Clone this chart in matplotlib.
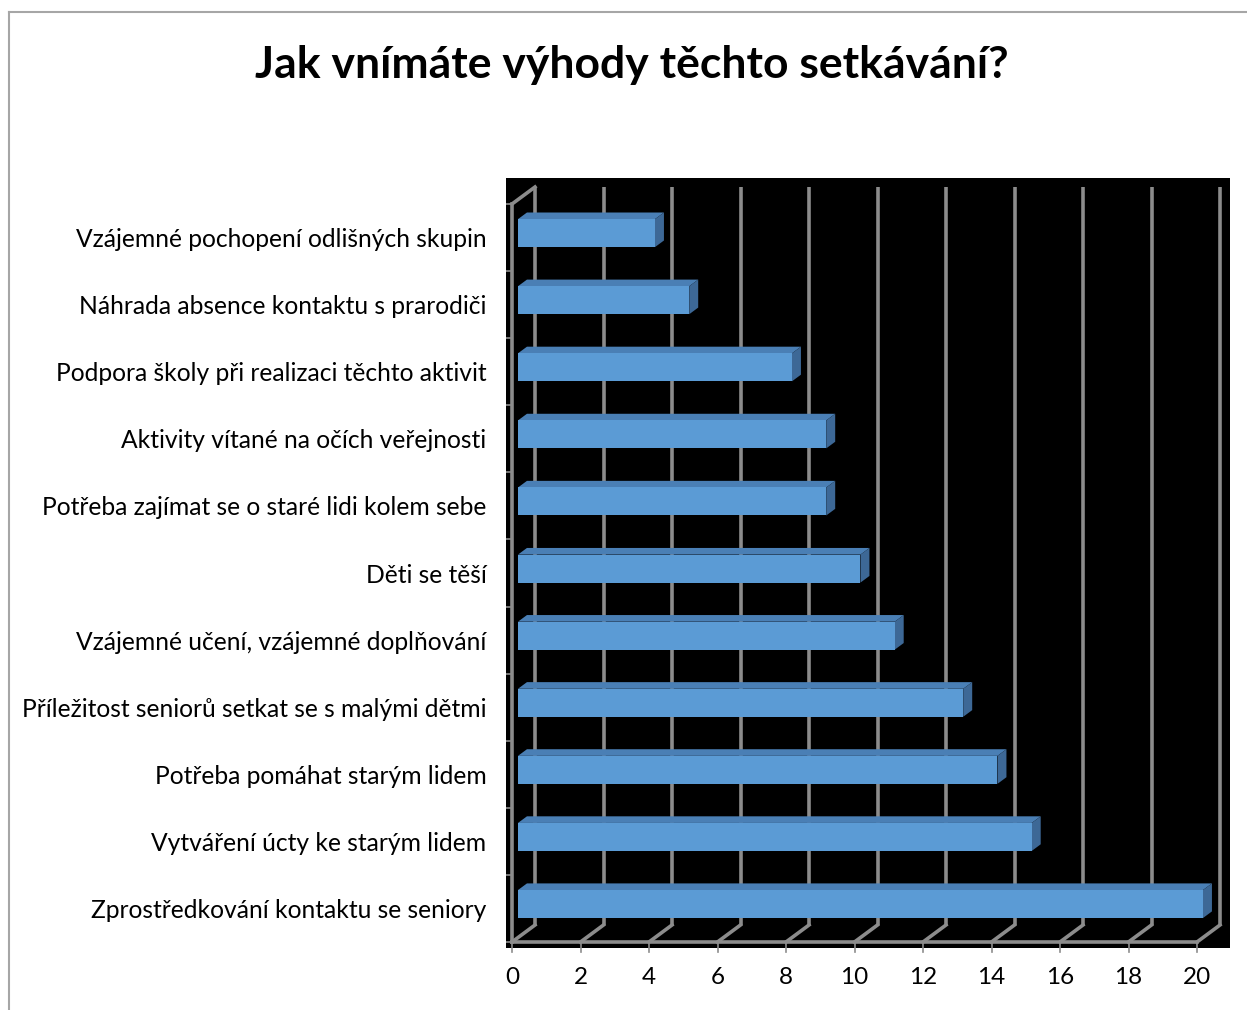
import matplotlib
matplotlib.use("Agg")
import matplotlib.pyplot as plt
from matplotlib.patches import Polygon, Rectangle
from matplotlib.lines import Line2D

plt.rcParams['font.family'] = ['Lato', 'DejaVu Sans']

# ---------- data ----------
kategorie = [
    "Zprostředkování kontaktu se seniory",
    "Vytváření úcty ke starým lidem",
    "Potřeba pomáhat starým lidem",
    "Příležitost seniorů setkat se s malými dětmi",
    "Vzájemné učení, vzájemné doplňování",
    "Děti se těší",
    "Potřeba zajímat se o staré lidi kolem sebe",
    "Aktivity vítané na očích veřejnosti",
    "Podpora školy při realizaci těchto aktivit",
    "Náhrada absence kontaktu s prarodiči",
    "Vzájemné pochopení odlišných skupin",
]
hodnoty = [20, 15, 14, 13, 11, 10, 9, 9, 8, 5, 4]
x_ticks = list(range(0, 21, 2))
titulek = "Jak vnímáte výhody těchto setkávání?"

# ---------- 3D look ----------
W, H = 1247, 1010
fig = plt.figure(figsize=(W / 100, H / 100), dpi=100)

# black plot area in pixels (left, right, top, bottom)
L, R, T, B = 506, 1230, 178, 948
ax = fig.add_axes([L / W, 1 - B / H, (R - L) / W, (B - T) / H])
ax.set_facecolor("black")
for s in ax.spines.values():
    s.set_visible(False)

x0_px, px_per_unit = 512, 34.25
y0_px, px_per_cat = 942, 67.09
ax.set_xlim((L - x0_px) / px_per_unit, (R - x0_px) / px_per_unit)
ax.set_ylim((y0_px - B) / px_per_cat, (y0_px - T) / px_per_cat)

DX = 23 / px_per_unit   # depth offset along x
DY = 17 / px_per_cat    # depth offset along y
n = len(kategorie)
grid_c = "#8c8c8c"
lw = 2.6

# back wall gridlines + floor diagonals
for v in x_ticks:
    ax.plot([v + DX, v + DX], [DY, n + DY], color=grid_c, lw=lw, zorder=1,
            solid_capstyle="butt")
    ax.plot([v, v + DX], [0, DY], color=grid_c, lw=lw, zorder=1)
# front floor line + left wall
ax.plot([0, 20], [0, 0], color=grid_c, lw=lw, zorder=1)
ax.plot([0, 0], [0, n], color=grid_c, lw=lw, zorder=1)
ax.plot([0, DX], [n, n + DY], color=grid_c, lw=lw, zorder=1)

# y ticks (category boundaries)
for k in range(n + 1):
    ax.plot([-0.26, 0], [k, k], color=grid_c, lw=1.2, zorder=1)
# x ticks below floor
for v in x_ticks:
    ax.plot([v, v], [0, -10 / px_per_cat], color=grid_c, lw=1.2, zorder=1,
            clip_on=False)

# bars
f0, f1 = 0.26, 0.65
h = 28 / px_per_cat
front_c, top_c, side_c = "#5b9bd5", "#4a7fb5", "#3d6896"
for i, v in enumerate(hodnoty):
    bx = f0 * DX
    yc = i + 0.5 + f0 * DY
    yb, yt = yc - h / 2, yc + h / 2
    ddx, ddy = (f1 - f0) * DX, (f1 - f0) * DY
    ax.add_patch(Polygon([(bx, yt), (bx + v, yt), (bx + v + ddx, yt + ddy),
                          (bx + ddx, yt + ddy)], closed=True,
                         facecolor=top_c, edgecolor="none", zorder=3))
    ax.add_patch(Polygon([(bx + v, yb), (bx + v + ddx, yb + ddy),
                          (bx + v + ddx, yt + ddy), (bx + v, yt)], closed=True,
                         facecolor=side_c, edgecolor="none", zorder=3))
    ax.add_patch(Rectangle((bx, yb), v, h, facecolor=front_c,
                           edgecolor="none", zorder=4))

# labels
ax.set_yticks([i + 0.5 for i in range(n)])
ax.set_yticklabels(kategorie, fontsize=17.7, color="black")
ax.tick_params(axis="y", length=0, pad=14)
ax.set_xticks(x_ticks)
ax.set_xticklabels([str(v) for v in x_ticks], fontsize=17.5)
ax.tick_params(axis="x", length=0, pad=14)

fig.text(632 / W, 1 - 65 / H, titulek, ha="center", va="center",
         fontsize=32, fontweight="bold")

# outer frame (top and left only)
fig.add_artist(Line2D([9 / W, 1], [1 - 12 / H, 1 - 12 / H],
                      transform=fig.transFigure, color="#a6a6a6", lw=1.5))
fig.add_artist(Line2D([9 / W, 9 / W], [0, 1 - 12 / H],
                      transform=fig.transFigure, color="#a6a6a6", lw=1.5))

fig.savefig("out.png", dpi=100)
